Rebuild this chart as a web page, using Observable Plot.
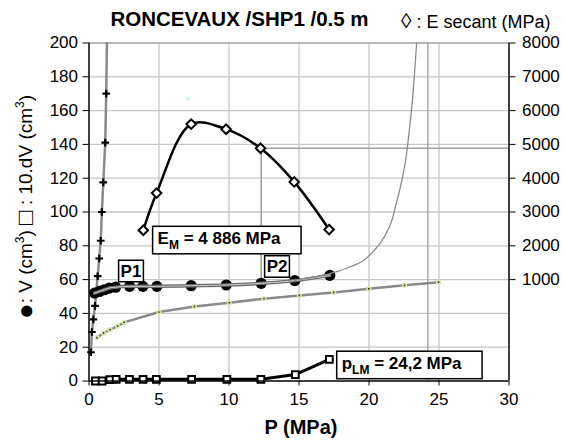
<!DOCTYPE html>
<html><head><meta charset="utf-8">
<script src="https://cdn.jsdelivr.net/npm/d3@7"></script>
<script src="https://cdn.jsdelivr.net/npm/@observablehq/plot@0.6"></script>
<style>body{margin:0;background:#fff} svg{display:block}</style>
</head><body><div id="chart"></div>
<script>
// ---- data ----
const xTicks = [0, 5, 10, 15, 20, 25, 30];
const yTicks = [0, 20, 40, 60, 80, 100, 120, 140, 160, 180, 200];
const eTicks = [1000, 2000, 3000, 4000, 5000, 6000, 7000, 8000];
const yDomain = [0, 200];
const eAxisDomain = [-2000, 8000];

// ● V (cm3)
const vP = [0.4, 0.75, 1.1, 1.45, 1.9, 2.9, 3.85, 4.85, 7.3, 9.8, 12.3, 14.7, 17.2];
const vV = [52, 53, 54, 55, 55.5, 56, 56, 56, 56.4, 56.8, 57.8, 59.4, 62.5];
// □ 10.dV (cm3)
const sP = [0.46, 0.94, 1.49, 1.94, 2.89, 3.86, 4.81, 7.33, 9.85, 12.28, 14.74, 17.17];
const sV = [0, 0, 0.8, 1, 1, 1, 1, 1, 1, 1, 3.8, 12.8];
// + initial loading curve
const cP = [0.14, 0.21, 0.31, 0.43, 0.52, 0.62, 0.73, 0.84, 0.92, 1.02, 1.16, 1.23];
const cV = [17, 29, 36.5, 44.5, 53, 62, 72.5, 83, 100, 117.5, 141, 170];
const cEndP = 1.28, cEndV = 200;
// lower (green dotted) curve
const gP = [0.57, 1.04, 1.51, 2.04, 2.51, 5, 7.53, 10.02, 12.5, 15.02, 17.48, 19.99, 22.53, 24.97];
const gV = [25.6, 28.4, 30.4, 32.5, 34.7, 40.8, 44.1, 46.3, 48.7, 50.6, 52.4, 54.6, 56.6, 58.5];
// hyperbolic fit (thin grey)
const fP = [14.7, 17.2, 18.5, 19.6, 20.75, 21.5, 21.94, 22.3, 22.65, 22.9, 23.12, 23.4];
const fV = [59.6, 63.5, 67, 71.3, 81, 92, 104.8, 117, 132.4, 150, 167.8, 200];
// ◊ E secant (MPa), right axis
const eP = [3.88, 4.83, 7.3, 9.79, 12.25, 14.66, 17.15];
const eE = [2460, 3560, 5600, 5450, 4886, 3890, 2480];
// reference values
const EM = 4886, emP = 12.3, p2V = 57.8, pLM = 24.2;
// stray point
const strayP = [7.06], strayV = [167];
// annotation labels
const ptLabels = ["P1", "P2"], ptLabelP = [3.0, 13.43], ptLabelV = [64.9, 67.6];
const valLabels = ["E_{M} = 4 886 MPa", "p_{LM} = 24,2 MPa"], valLabelP = [4.9, 18.05], valLabelV = [84.1, 10.2];

const title = "RONCEVAUX /SHP1 /0.5 m";
const legendText = "\u25CA : E secant (MPa)";
const xLabel = "P (MPa)";

// ---- helpers ----
const toLeft = e => yDomain[0] + (e - eAxisDomain[0]) / (eAxisDomain[1] - eAxisDomain[0]) * (yDomain[1] - yDomain[0]);
const fromLeft = v => eAxisDomain[0] + (v - yDomain[0]) / (yDomain[1] - yDomain[0]) * (eAxisDomain[1] - eAxisDomain[0]);
const zip = (xs, ys) => xs.map((x, i) => ({x, y: ys[i]}));

const circles = zip(vP, vV);
const squares = zip(sP, sV);
const crosses = zip(cP, cV);
const crossLine = [...crosses, {x: cEndP, y: cEndV}];
const green = zip(gP, gV);
const fit = zip(fP, fV);
const esec = eP.map((x, i) => ({x, y: toLeft(eE[i])}));
const stray = zip(strayP, strayV);
const ptL = ptLabels.map((t, i) => ({t, x: ptLabelP[i], y: ptLabelV[i]}));
const valL = valLabels.map((t, i) => ({t, x: valLabelP[i], y: valLabelV[i]}));
const emY = toLeft(EM);

const font = "'Liberation Sans', Arial, Helvetica, sans-serif";

const chart = Plot.plot({
  width: 566, height: 440,
  marginTop: 42.5, marginBottom: 59.5, marginLeft: 88.5, marginRight: 57.5,
  style: {fontFamily: font, fontSize: "17px", color: "#000", background: "#fff", overflow: "visible"},
  x: {domain: [xTicks[0], xTicks[xTicks.length - 1]]},
  y: {domain: yDomain},
  marks: [
    Plot.ruleX(xTicks.slice(1, -1), {stroke: "#c6c6c6", strokeWidth: 1.3}),
    Plot.ruleY(yTicks.slice(1, -1), {stroke: "#c6c6c6", strokeWidth: 1.3}),
    Plot.ruleY([yDomain[1]], {stroke: "#a0a0a0", strokeWidth: 1.6}),
    Plot.ruleX([pLM], {stroke: "#a4a4a4", strokeWidth: 1.4}),
    Plot.ruleY([{y: emY, x1: emP, x2: xTicks[xTicks.length - 1]}], {y: "y", x1: "x1", x2: "x2", stroke: "#a0a0a0", strokeWidth: 1.6}),
    Plot.ruleX([{x: emP, y1: p2V, y2: emY}], {x: "x", y1: "y1", y2: "y2", stroke: "#a0a0a0", strokeWidth: 1.6}),
    Plot.dot(stray, {x: "x", y: "y", r: 2, fill: "#c4f2f6"}),
    // lower green dotted curve
    Plot.line(green, {x: "x", y: "y", stroke: "#8a8a8a", strokeWidth: 2.5}),
    Plot.dot(green, {x: "x", y: "y", r: 2.6, fill: "#d4e6a4"}),
    Plot.dot(green, {x: "x", y: "y", r: 0.9, fill: "#333"}),
    // initial crosses curve
    Plot.line(crossLine, {x: "x", y: "y", stroke: "#8a8a8a", strokeWidth: 2.5}),
    Plot.dot(crosses, {x: "x", y: "y", symbol: "plus", r: 2.6, stroke: "#000", strokeWidth: 2.2}),
    // squares 10.dV
    Plot.line(squares, {x: "x", y: "y", stroke: "#000", strokeWidth: 3}),
    Plot.dot(squares, {x: "x", y: "y", symbol: "square2", r: 4.3, fill: "#fff", stroke: "#000", strokeWidth: 2}),
    // V circles
    Plot.dot(circles, {x: "x", y: "y", r: 5.6, fill: "#000"}),
    Plot.line(circles, {x: "x", y: "y", stroke: "#6a6a6a", strokeWidth: 3.5, curve: "catmull-rom"}),
    Plot.line(circles, {x: "x", y: "y", stroke: "#e6e6e6", strokeWidth: 0.8, curve: "catmull-rom"}),
    // hyperbolic fit
    Plot.line(fit, {x: "x", y: "y", stroke: "#8a8a8a", strokeWidth: 1.3, curve: "catmull-rom"}),
    // E secant
    Plot.line(esec, {x: "x", y: "y", stroke: "#000", strokeWidth: 2.5, curve: "catmull-rom"}),
    Plot.dot(esec, {x: "x", y: "y", symbol: "diamond2", r: 4.3, fill: "#fff", stroke: "#000", strokeWidth: 2}),
    // axes
    Plot.axisX({ticks: xTicks, tickSize: 5, tickPadding: 7, label: null, fontSize: 17}),
    Plot.axisY({ticks: yTicks, tickSize: 6, tickPadding: 5, label: null, fontSize: 17}),
    Plot.axisY(eTicks.map(toLeft), {anchor: "right", tickSize: 6, tickPadding: 7, label: null, fontSize: 17,
      tickFormat: d => String(Math.round(fromLeft(d)))}),
    Plot.ruleX([xTicks[0]], {stroke: "#000", strokeWidth: 1.5}),
    Plot.ruleX([xTicks[xTicks.length - 1]], {stroke: "#000", strokeWidth: 1.5}),
    Plot.ruleY([yDomain[0]], {stroke: "#000", strokeWidth: 1.5}),
    // labels
    Plot.text(ptL, {x: "x", y: "y", text: "t", fontWeight: "bold", fontSize: 17, textAnchor: "middle", fill: "#000"}),
    Plot.text(valL, {x: "x", y: "y", text: "t", fontWeight: "bold", fontSize: 17, textAnchor: "start", fill: "#000"})
  ]
});
document.getElementById("chart").appendChild(chart);

const svg = d3.select(chart);
// subscripts + boxes for annotation labels
const allLabels = new Set([...ptLabels, ...valLabels]);
svg.selectAll("text").each(function () {
  const el = this;
  const txt = el.textContent;
  if (!allLabels.has(txt)) return;
  const isVal = valLabels.includes(txt);
  const m = txt.match(/^(.*?)_\{(.*?)\}(.*)$/);
  const sel = d3.select(el);
  if (m) {
    sel.text(null);
    sel.append("tspan").text(m[1]);
    sel.append("tspan").attr("font-size", 12).attr("dy", 5).text(m[2]);
    sel.append("tspan").attr("dy", -5).text(m[3]);
  }
  const bb = el.getBBox();
  const padL = isVal ? 5 : 2, padR = isVal ? 20 : 2, padT = isVal ? 3 : 1.5, padB = isVal ? 1.5 : 1;
  const r = d3.select(el.parentNode).insert("rect", () => el)
    .attr("x", bb.x - padL).attr("y", bb.y - padT)
    .attr("width", bb.width + padL + padR).attr("height", bb.height + padT + padB)
    .attr("fill", "#fff").attr("stroke", "#000").attr("stroke-width", 1.5);
  const tr = el.getAttribute("transform");
  if (tr) r.attr("transform", tr);
});

// title, legend, axis labels
svg.append("text").attr("x", 239.5).attr("y", 26).attr("text-anchor", "middle")
  .attr("font-family", font).attr("font-size", 20.5).attr("font-weight", "bold").text(title);
const lg = svg.append("text").attr("x", 401).attr("y", 28).attr("text-anchor", "start")
  .attr("font-family", font).attr("font-size", 18);
lg.append("tspan").attr("font-size", 21).text("\u25CA");
lg.append("tspan").text(" : E secant (MPa)");
svg.append("text").attr("x", 301).attr("y", 434).attr("text-anchor", "middle")
  .attr("font-family", font).attr("font-size", 20).attr("font-weight", "bold").text(xLabel);
const yl = svg.append("text").attr("transform", "translate(32,207) rotate(-90)").attr("text-anchor", "middle")
  .attr("font-family", font).attr("font-size", 19);
yl.append("tspan").attr("font-size", 26).attr("dy", 2).text("\u25CF");
yl.append("tspan").attr("dy", -2).text(": V (cm");
yl.append("tspan").attr("font-size", 12).attr("dy", -8).text("3");
yl.append("tspan").attr("dy", 8).text(") ");
yl.append("tspan").attr("font-size", 24).attr("dy", 1).text("\u25A1");
yl.append("tspan").attr("dy", -1).text(" : 10.dV (cm");
yl.append("tspan").attr("font-size", 12).attr("dy", -8).text("3");
yl.append("tspan").attr("dy", 8).text(")");
</script>
</body></html>
